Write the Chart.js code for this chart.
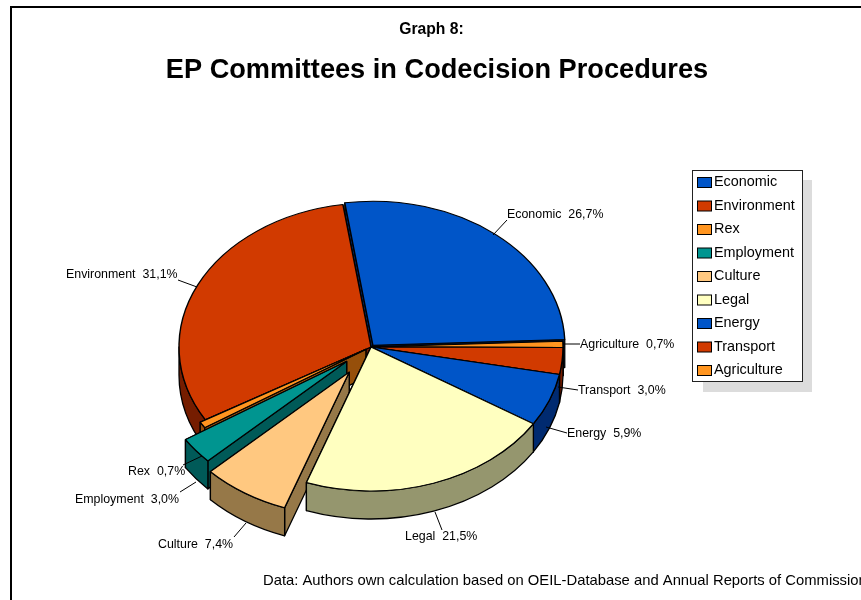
<!DOCTYPE html>
<html>
<head>
<meta charset="utf-8">
<title>EP Committees in Codecision Procedures</title>
<script src="https://cdn.jsdelivr.net/npm/chart.js@4"></script>
<style>
    html, body { margin: 0; padding: 0; background: #fff; overflow: hidden; }
    canvas { display: block; }
</style>
</head>
<body>
<canvas id="pieChart" width="861" height="600"></canvas>
<script>
const graphLabel = 'Graph 8:';
const chartTitle = 'EP Committees in Codecision Procedures';
const sourceNote = 'Data: Authors own calculation based on OEIL-Database and Annual Reports of Commission';

// legend order, the pie runs the other way round
const categories = ['Economic', 'Environment', 'Rex', 'Employment', 'Culture', 'Legal', 'Energy', 'Transport', 'Agriculture'];
const shares = [26.7, 31.1, 0.7, 3.0, 7.4, 21.5, 5.9, 3.0, 0.7];
const sliceColors = ['#0055c8', '#d13a00', '#ff9520', '#009590', '#ffc880', '#ffffc0', '#0055c8', '#d13a00', '#ff9520'];
const wallColors = ['#002a70', '#751d00', '#964f0a', '#005a58', '#967848', '#95966e', '#002a70', '#751d00', '#964f0a'];
const explode = [3, 0, 6, 31, 40, 0, 0, 0, 0];

// text position and leader line of every data label
const labelLayout = {
    Economic: { x: 507, y: 215, from: [507, 220], to: [493, 235] },
    Environment: { x: 66, y: 275, from: [178, 280], to: [197, 287] },
    Rex: { x: 128, y: 472, from: [183, 465], to: [202, 456] },
    Employment: { x: 75, y: 500, from: [180, 492], to: [196, 482] },
    Culture: { x: 158, y: 545, from: [234, 537], to: [246, 523] },
    Legal: { x: 405, y: 537, from: [442, 530], to: [435, 512] },
    Energy: { x: 567, y: 434, from: [567, 433], to: [546, 427] },
    Transport: { x: 578, y: 391, from: [578, 390], to: [558, 387] },
    Agriculture: { x: 580, y: 345, from: [580, 344], to: [563, 344] }
};

const paintOrder = ['Economic', 'Agriculture', 'Transport', 'Environment', 'Rex', 'Employment', 'Culture', 'Energy', 'Legal'];

const FONT = '"Liberation Sans", Arial, sans-serif';
const SQUASH = 0.75;
const DEPTH = 28;

function percentText(v) {
    return v.toFixed(1).replace('.', ',') + '%';
}

function sliceShift(arc, dist) {
    const mid = (arc.startAngle + arc.endAngle) / 2;
    return { x: Math.cos(mid) * dist, y: Math.sin(mid) * dist * SQUASH };
}

function drawWalls(ctx, arc, dist, color) {
    const shift = sliceShift(arc, dist);
    const cx = arc.x + shift.x;
    const cy = arc.y + shift.y;
    const r = arc.outerRadius;
    ctx.save();
    ctx.fillStyle = color;
    ctx.strokeStyle = '#000';
    ctx.lineWidth = 1.3;
    ctx.lineJoin = 'round';

    // the cut face further back goes first
    const cuts = [arc.startAngle, arc.endAngle].sort((a, b) => Math.sin(a) - Math.sin(b));
    cuts.forEach(a => {
        const px = cx + Math.cos(a) * r;
        const py = cy + Math.sin(a) * r * SQUASH;
        ctx.beginPath();
        ctx.moveTo(cx, cy);
        ctx.lineTo(px, py);
        ctx.lineTo(px, py + DEPTH);
        ctx.lineTo(cx, cy + DEPTH);
        ctx.closePath();
        ctx.fill();
        ctx.stroke();
    });

    [0, Math.PI * 2, -Math.PI * 2].forEach(turn => {
        const lo = Math.max(arc.startAngle + turn, 0);
        const hi = Math.min(arc.endAngle + turn, Math.PI);
        if (hi <= lo) return;
        ctx.beginPath();
        ctx.ellipse(cx, cy, r, r * SQUASH, 0, lo, hi);
        ctx.ellipse(cx, cy + DEPTH, r, r * SQUASH, 0, hi, lo, true);
        ctx.closePath();
        ctx.fill();
        ctx.stroke();
    });
    ctx.restore();
}

// draws the slices back to front, each with its walls, squashed to an ellipse
const pie3d = {
    id: 'pie3d',
    beforeDatasetDraw(chart, args) {
        const ctx = chart.ctx;
        const arcs = args.meta.data;
        const names = chart.data.labels;
        paintOrder.forEach(name => {
            const i = names.indexOf(name);
            const k = categories.indexOf(name);
            const arc = arcs[i];
            const shift = sliceShift(arc, explode[k]);
            drawWalls(ctx, arc, explode[k], wallColors[k]);
            ctx.save();
            ctx.translate(arc.x + shift.x, arc.y + shift.y);
            ctx.scale(1, SQUASH);
            ctx.translate(-arc.x, -arc.y);
            arc.draw(ctx);
            ctx.restore();
        });
        return false;
    },
    afterDraw(chart) {
        const ctx = chart.ctx;
        ctx.save();

        // frame
        ctx.fillStyle = '#000';
        ctx.fillRect(10, 6, 851, 2);
        ctx.fillRect(10, 6, 2, 594);

        // titles
        ctx.textBaseline = 'middle';
        ctx.textAlign = 'center';
        ctx.font = 'bold 15.7px ' + FONT;
        ctx.fillText(graphLabel, 431.5, 29.5);
        ctx.font = 'bold 27.2px ' + FONT;
        ctx.fillText(chartTitle, 437, 71);
        ctx.textAlign = 'left';
        ctx.font = '14.8px ' + FONT;
        ctx.fillText(sourceNote, 263, 581);

        // data labels
        ctx.font = '12.4px ' + FONT;
        ctx.strokeStyle = '#000';
        ctx.lineWidth = 1;
        categories.forEach((name, k) => {
            const lay = labelLayout[name];
            ctx.beginPath();
            ctx.moveTo(lay.from[0], lay.from[1]);
            ctx.lineTo(lay.to[0], lay.to[1]);
            ctx.stroke();
            ctx.fillStyle = '#000';
            ctx.fillText(name + '  ' + percentText(shares[k]), lay.x, lay.y);
        });

        // legend
        ctx.fillStyle = '#dcdcdc';
        ctx.fillRect(703, 180, 109, 212);
        ctx.fillStyle = '#fff';
        ctx.fillRect(692.5, 170.5, 110, 211);
        ctx.strokeStyle = '#222';
        ctx.strokeRect(692.5, 170.5, 110, 211);
        categories.forEach((name, k) => {
            const y = 182 + k * 23.5;
            ctx.fillStyle = sliceColors[k];
            ctx.fillRect(697.5, y - 4.5, 14, 10);
            ctx.strokeStyle = '#000';
            ctx.strokeRect(697.5, y - 4.5, 14, 10);
            ctx.fillStyle = '#000';
            ctx.font = '14.4px ' + FONT;
            ctx.fillText(name, 714, y + 0.5);
        });
        ctx.restore();
    }
};

new Chart(document.getElementById('pieChart'), {
    type: 'pie',
    data: {
        labels: [...categories].reverse(),
        datasets: [{
            data: [...shares].reverse(),
            backgroundColor: [...sliceColors].reverse(),
            borderColor: '#000',
            borderWidth: 1.4
        }]
    },
    options: {
        responsive: false,
        animation: false,
        rotation: 87.7,
        radius: 192,
        layout: { padding: { left: 0, right: 119, top: 94, bottom: 0 } },
        plugins: { legend: { display: false }, tooltip: { enabled: false } }
    },
    plugins: [pie3d]
});
</script>
</body>
</html>
